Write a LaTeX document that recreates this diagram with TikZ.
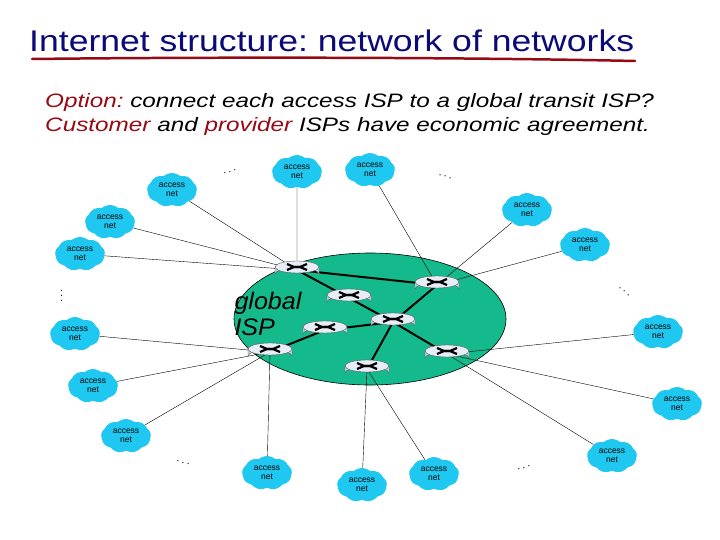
\documentclass[tikz,border=0pt]{standalone}
\usepackage{fontspec}
\setmainfont{Liberation Sans}
\usetikzlibrary{shapes.symbols}
\definecolor{navy}{RGB}{10,10,120}
\definecolor{dred}{RGB}{150,10,20}
\definecolor{isp}{RGB}{20,185,140}
\definecolor{acc}{RGB}{30,200,240}
\definecolor{rtop}{RGB}{232,236,246}
\definecolor{rbody}{RGB}{200,206,222}
\frenchspacing
\newcommand\myrouter[3]{%
  \begin{scope}[shift={(#1,#2)}]
    \fill[rbody,draw=gray!70!black,line width=0.4pt] (-22,-3) -- (-22,4) arc[start angle=180,end angle=360,x radius=22,y radius=6] -- (22,-3) -- cycle;
    \fill[rtop,draw=gray!70!black,line width=0.4pt] (0,-3) ellipse[x radius=22,y radius=6];
    \draw[line width=2.2pt] (-10,-6) -- (-3,-3) -- (3,-3) -- (10,-6);
    \draw[line width=2.2pt] (-10,0) -- (-3,-3) -- (3,-3) -- (10,0);
  \end{scope}
  \node[inner sep=0pt,minimum width=44pt,minimum height=16pt] (#3) at (#1,#2) {};}
\tikzset{
  accnet/.style={cloud,cloud puffs=9,cloud puff arc=80,aspect=1.5,fill=acc,inner sep=0pt,minimum width=50pt,minimum height=34pt,font=\fontsize{8.5}{9}\selectfont,align=center},
  link/.style={line width=0.4pt},
  core/.style={line width=2pt},
  dotsl/.style={font=\fontsize{12}{12}\selectfont}
}
\begin{document}
\begin{tikzpicture}[x=1bp,y=-1bp]
\useasboundingbox (0,0) rectangle (720,540);
\node[anchor=base west,text=navy,font=\fontsize{30}{32}\selectfont,inner sep=0,xscale=1.19] (title) at (29,52) {Internet structure: network of networks};
\draw[dred,line width=2.5pt,line cap=round] (32,59) .. controls (200,57) and (450,57) .. (635,61);
\node[anchor=base west,font=\fontsize{19.5}{22}\selectfont\itshape,inner sep=0,xscale=1.25] (l1) at (45,108) {\textcolor{dred}{Option:} connect each access ISP to a global transit ISP?};
\node[anchor=base west,font=\fontsize{19.5}{22}\selectfont\itshape,inner sep=0,xscale=1.25] (l2) at (45,132) {\textcolor{dred}{Customer} and \textcolor{dred}{provider} ISPs have economic agreement.};
% ISP ellipse
\fill[isp,draw=black,line width=0.6pt] (370,319) ellipse[x radius=136,y radius=66];
\node[font=\fontsize{24}{27}\selectfont\itshape,align=left,xscale=1.05] (gisp) at (268,314) {global\\ISP};
% access nets
\node[accnet] (a1) at (172,190) {access\\net};
\node[accnet] (a2) at (297,172) {access\\net};
\node[accnet] (a3) at (370,170) {access\\net};
\node[accnet] (a4) at (527,210) {access\\net};
\node[accnet] (a5) at (110,222) {access\\net};
\node[accnet] (a6) at (585,245) {access\\net};
\node[accnet] (a7) at (80,254) {access\\net};
\node[accnet] (a8) at (75,334) {access\\net};
\node[accnet] (a9) at (658,332) {access\\net};
\node[accnet] (a10) at (93,386) {access\\net};
\node[accnet] (a11) at (677,404) {access\\net};
\node[accnet] (a12) at (126,436) {access\\net};
\node[accnet] (a13) at (612,456) {access\\net};
\node[accnet] (a14) at (267,473) {access\\net};
\node[accnet] (a15) at (362,485) {access\\net};
\node[accnet] (a16) at (434,474) {access\\net};
% dots
\node[dotsl,rotate=20] (d1) at (230,172) {$\cdots$};
\node[dotsl,rotate=-20] (d2) at (445,177) {$\cdots$};
\node[dotsl,rotate=90] (d3) at (62,296) {$\cdots$};
\node[dotsl,rotate=-40] (d4) at (624,292) {$\cdots$};
\node[dotsl,rotate=-15] (d5) at (183,463) {$\cdots$};
\node[dotsl,rotate=20] (d6) at (524,468) {$\cdots$};
% router placeholders for links
\coordinate (c1) at (297,270); \coordinate (c2) at (437,285);
\coordinate (c3) at (349,298); \coordinate (c4) at (393,322);
\coordinate (c5) at (325,330); \coordinate (c6) at (270,352);
\coordinate (c7) at (447,354); \coordinate (c8) at (367,369);
\foreach \a/\r in {a1/c1,a5/c1,a7/c1,a2/c1,a3/c2,a4/c2,a6/c2,a8/c6,a10/c6,a12/c6,a14/c6,a15/c8,a16/c8,a9/c7,a11/c7,a13/c7}
  \draw[link] (\a) -- (\r);
\foreach \p/\q in {c1/c2,c1/c3,c3/c4,c2/c4,c4/c5,c5/c6,c4/c8,c4/c7}
  \draw[core] (\p) -- (\q);
\myrouter{297}{270}{r1}
\myrouter{437}{285}{r2}
\myrouter{349}{298}{r3}
\myrouter{393}{322}{r4}
\myrouter{325}{330}{r5}
\myrouter{270}{352}{r6}
\myrouter{447}{354}{r7}
\myrouter{367}{369}{r8}
\end{tikzpicture}
\end{document}
